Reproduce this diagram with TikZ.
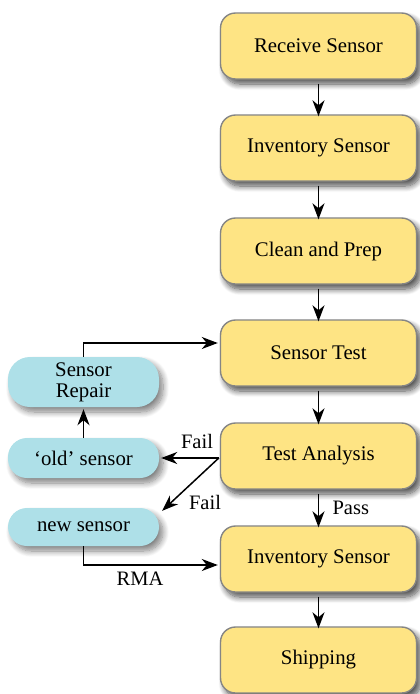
\documentclass[tikz,border=0pt]{standalone}
\usepackage{fontspec}
\setmainfont{Liberation Serif}
\usetikzlibrary{shadows.blur,arrows.meta}
\definecolor{boxyellow}{HTML}{FEE484}
\definecolor{boxedge}{HTML}{858585}
\definecolor{pillblue}{HTML}{AEE0E8}
\tikzset{
  stepbox/.style={draw=boxedge, line width=1.4pt, fill=boxyellow,
    rounded corners=15pt, minimum width=196pt, minimum height=66pt,
    font=\fontsize{20.8}{24}\selectfont,
    blur shadow={shadow xshift=4pt, shadow yshift=-5pt, shadow blur radius=6pt,
      shadow blur steps=10, shadow opacity=70}},
  pill/.style={fill=pillblue, rounded corners=19pt, minimum width=151pt,
    align=center, font=\fontsize{20.8}{24}\selectfont,
    blur shadow={shadow xshift=4pt, shadow yshift=-5pt, shadow blur radius=6pt,
      shadow blur steps=10, shadow opacity=50}},
  flow/.style={line width=1.5pt, -{Stealth[length=16pt,width=12pt,inset=5pt]}},
  lbl/.style={font=\fontsize{20.5}{24}\selectfont}
}
\begin{document}
\begin{tikzpicture}[x=1pt,y=-1pt]
  \useasboundingbox (0,0) rectangle (420,694);
  % main process column
  \node[stepbox] (recv)  at (318.5,46)  {Receive Sensor};
  \node[stepbox] (inv1)  at (318.5,148) {Inventory Sensor};
  \node[stepbox] (clean) at (318.5,251) {Clean and Prep};
  \node[stepbox] (test)  at (318.5,353) {Sensor Test};
  \node[stepbox] (anal)  at (318.5,456) {Test Analysis};
  \node[stepbox] (inv2)  at (318.5,559) {Inventory Sensor};
  \node[stepbox] (ship)  at (318.5,660) {Shipping};
  % side branch
  \node[pill, minimum height=50pt, inner sep=1pt, rounded corners=22pt] (repair) at (83.5,382) {Sensor\\[-3pt]Repair};
  \node[pill, minimum height=40pt] (old) at (83.5,458) {‘old’ sensor};
  \node[pill, minimum height=38pt] (new) at (83.5,527) {new sensor};
  % main flow
  \foreach \a/\b in {recv/inv1, inv1/clean, clean/test, test/anal, anal/inv2, inv2/ship}
    \draw[flow] (\a.south) ++(0,4) -- ([yshift=-2pt]\b.north);
  \node[lbl, anchor=west] at (329,508) {Pass};
  % failures
  \coordinate (fork) at ([xshift=-1pt]anal.west |- 0,458);
  \draw[flow] (fork) -- ([xshift=2pt]old.east);
  \node[lbl] at (197,441) {Fail};
  \draw[flow] (fork) -- ([xshift=3pt,yshift=-3pt]new.north east);
  \node[lbl] at (205,502) {Fail};
  \draw[flow] (old.north) -- ([yshift=-2pt]repair.south);
  \draw[flow] (repair.north) |- ([xshift=-2pt]test.west |- 0,343);
  \draw[flow] (new.south) |- ([xshift=-2pt]inv2.west |- 0,565);
  \node[lbl] at (140,579) {RMA};
\end{tikzpicture}
\end{document}
